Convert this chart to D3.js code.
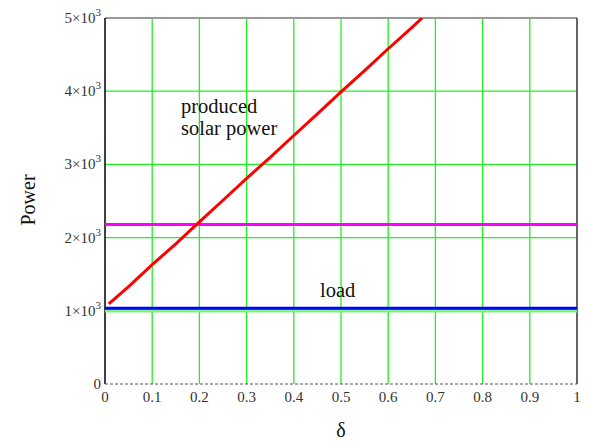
<!doctype html>
<html lang="en">
  <head>
    <meta charset="UTF-8" />
    <title>Power vs delta</title>
    <script src="https://unpkg.com/d3@7.9.0/dist/d3.min.js"></script>
    <style>
      body {
        margin: 0;
        background: #fff;
        overflow: hidden;
      }
      svg text {
        font-family: 'Liberation Serif', 'Times New Roman', serif;
      }
      .tick-label {
        font-size: 15px;
        fill: #333;
      }
      .note {
        font-size: 20.5px;
        fill: #111;
      }
    </style>
  </head>
  <body>
    <svg width="590" height="443"></svg>

    <script>
      // data
      const xTicks = [0, 0.1, 0.2, 0.3, 0.4, 0.5, 0.6, 0.7, 0.8, 0.9, 1];
      const yTicks = [0, 1000, 2000, 3000, 4000, 5000];
      const solarDelta = [0.008, 0.05, 0.1, 0.15, 0.2, 0.25, 0.3, 0.35, 0.4, 0.45, 0.5, 0.55, 0.6, 0.65, 0.672];
      const solarPower = [1095, 1330, 1630, 1915, 2215, 2510, 2810, 3095, 3395, 3690, 3990, 4280, 4580, 4870, 5000];
      const loadPower = 1035;
      const baseLoad = 1005;
      const limitPower = 2180;

      const svg = d3.select('svg');
      const margin = { top: 18, right: 13, bottom: 59, left: 105 };
      const W = 590 - margin.left - margin.right;
      const H = 443 - margin.top - margin.bottom;

      const x = d3.scaleLinear().domain([0, 1]).range([0, W]);
      const y = d3.scaleLinear().domain([0, 5000]).range([H, 0]);

      const g = svg.append('g').attr('transform', `translate(${margin.left},${margin.top})`);

      g.append('clipPath').attr('id', 'clip')
        .append('rect').attr('width', W).attr('height', H);

      // grid
      g.selectAll('.vgrid')
        .data(xTicks.filter((d) => d > 0 && d < 1))
        .enter().append('line')
        .attr('x1', (d) => x(d)).attr('x2', (d) => x(d))
        .attr('y1', 0).attr('y2', H)
        .attr('stroke', '#22f022').attr('stroke-width', 1.3);

      g.selectAll('.hgrid')
        .data(yTicks.filter((d) => d > 0 && d < 5000))
        .enter().append('line')
        .attr('x1', 0).attr('x2', W)
        .attr('y1', (d) => y(d)).attr('y2', (d) => y(d))
        .attr('stroke', '#22f022').attr('stroke-width', 1.3);

      // frame
      g.append('line').attr('x1', 0).attr('x2', W).attr('y1', 0).attr('y2', 0)
        .attr('stroke', '#999').attr('stroke-width', 2);
      g.append('line').attr('x1', 0).attr('x2', 0).attr('y1', 0).attr('y2', H)
        .attr('stroke', '#000').attr('stroke-width', 1.5);
      g.append('line').attr('x1', W).attr('x2', W).attr('y1', 0).attr('y2', H)
        .attr('stroke', '#333').attr('stroke-width', 1.5);
      g.append('line').attr('x1', 0).attr('x2', W).attr('y1', H).attr('y2', H)
        .attr('stroke', '#555').attr('stroke-width', 1).attr('stroke-dasharray', '3,2');

      const lines = g.append('g').attr('clip-path', 'url(#clip)');

      // horizontal series
      const hline = (v, color, w) =>
        lines.append('line')
          .attr('x1', x(0)).attr('x2', x(1))
          .attr('y1', y(v)).attr('y2', y(v))
          .attr('stroke', color).attr('stroke-width', w);

      hline(baseLoad, '#80f080', 4);
      hline(loadPower, '#0000ff', 3);
      hline(limitPower, '#ff00ff', 3);

      const solar = solarDelta.map((d, i) => [d, solarPower[i]]);
      lines.append('path')
        .datum(solar)
        .attr('fill', 'none')
        .attr('stroke', '#ff0000')
        .attr('stroke-width', 3)
        .attr('d', d3.line().x((d) => x(d[0])).y((d) => y(d[1])));

      // x tick labels
      g.selectAll('.xt')
        .data(xTicks)
        .enter().append('text')
        .attr('class', 'tick-label')
        .attr('x', (d) => x(d))
        .attr('y', H + 18)
        .attr('text-anchor', 'middle')
        .text((d) => d3.format('')(d));

      // y tick labels (n x 10^3)
      yTicks.forEach((d) => {
        const t = g.append('text')
          .attr('class', 'tick-label')
          .attr('x', -4)
          .attr('y', y(d) + 5)
          .attr('text-anchor', 'end');
        if (d === 0) {
          t.text('0');
        } else {
          t.append('tspan').text(`${d / 1000}\u00d710`);
          t.append('tspan').attr('dy', -7).attr('font-size', 11).text('3');
        }
      });

      // axis titles
      svg.append('text')
        .attr('x', 341).attr('y', 437)
        .attr('text-anchor', 'middle')
        .attr('font-size', 20)
        .attr('fill', '#111')
        .text('δ');

      svg.append('text')
        .attr('transform', 'translate(35,200) rotate(-90)')
        .attr('text-anchor', 'middle')
        .attr('font-size', 20)
        .attr('fill', '#111')
        .text('Power');

      // annotations
      svg.append('text').attr('class', 'note').attr('x', 181).attr('y', 113).text('produced');
      svg.append('text').attr('class', 'note').attr('x', 181).attr('y', 135).text('solar power');
      svg.append('text').attr('class', 'note').attr('x', 320).attr('y', 297).text('load');
    </script>
  </body>
</html>
